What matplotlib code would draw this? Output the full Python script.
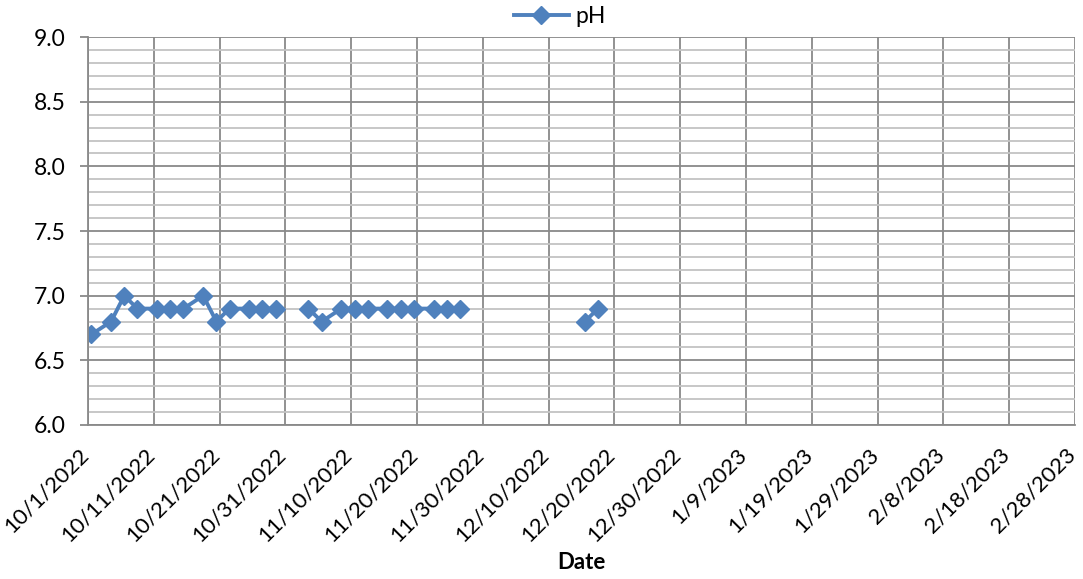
import matplotlib
matplotlib.use('Agg')
import matplotlib.pyplot as plt
import matplotlib.transforms as mtransforms
import numpy as np
import pandas as pd

plt.rcParams['font.family'] = ['Lato', 'DejaVu Sans']

# Sample dates (blank readings left as NaN so the line breaks like in Excel)
dates = ['2022-10-01', '2022-10-04', '2022-10-06', '2022-10-08', '2022-10-11',
         '2022-10-13', '2022-10-15', '2022-10-18', '2022-10-20', '2022-10-22',
         '2022-10-25', '2022-10-27', '2022-10-29', '2022-11-01',
         '2022-11-03', '2022-11-05', '2022-11-08', '2022-11-10', '2022-11-12',
         '2022-11-15', '2022-11-17', '2022-11-19', '2022-11-22', '2022-11-24',
         '2022-11-26', '2022-12-01',
         '2022-12-15', '2022-12-17']
ph = [6.7, 6.8, 7.0, 6.9, 6.9,
      6.9, 6.9, 7.0, 6.8, 6.9,
      6.9, 6.9, 6.9, np.nan,
      6.9, 6.8, 6.9, 6.9, 6.9,
      6.9, 6.9, 6.9, 6.9, 6.9,
      6.9, np.nan,
      6.8, 6.9]

x_start, x_end = '2022-10-01', '2023-02-28'

# Excel date axis puts each point in the middle of its day
x = pd.to_datetime(dates) + pd.Timedelta(hours=12)

fig = plt.figure(figsize=(10.83, 5.79), dpi=100)
ax = fig.add_axes([0.0813, 0.266, 0.9114, 0.670])

ax.plot(x, ph, color='#4F81BD', lw=2.8, marker='D', ms=9.5, label='pH')

ax.set_xlim(pd.Timestamp(x_start), pd.Timestamp(x_end))
ax.set_ylim(6.0, 9.0)

# x ticks every 10 days; labels drawn as rotated texts so they can be nudged
ticks = pd.date_range(x_start, x_end, freq='10D')
ax.set_xticks(ticks)
ax.set_xticklabels([])
off = mtransforms.ScaledTranslation(-7 / 72, -14 / 72, fig.dpi_scale_trans)
for t in ticks:
    ax.text(t, 0, f'{t.month}/{t.day}/{t.year}', transform=ax.get_xaxis_transform() + off,
            rotation=45, ha='right', va='top', rotation_mode='anchor', fontsize=16)

yt = np.arange(6.0, 9.01, 0.5)
ax.set_yticks(yt)
ax.set_yticklabels([f'{v:.1f}' for v in yt], fontsize=16.5)
ax.set_yticks(np.arange(6.0, 9.01, 0.1), minor=True)

ax.grid(True, which='major', axis='both', color='#898989', lw=1.3)
ax.grid(True, which='minor', axis='y', color='#c3c3c3', lw=1.3)
ax.set_axisbelow(True)

ax.tick_params(axis='y', which='major', length=6, width=1.3, color='#898989', pad=10)
ax.tick_params(axis='y', which='minor', length=0)
ax.tick_params(axis='x', which='major', length=0)

for side in ['top', 'right']:
    ax.spines[side].set_visible(False)
for side in ['left', 'bottom']:
    ax.spines[side].set_color('#898989')
    ax.spines[side].set_linewidth(1.3)

fig.text(0.537, 0.029, 'Date', fontsize=16, fontweight='bold',
         ha='center', va='center')

ax.legend(loc='center', bbox_to_anchor=(0.478, 1.052), frameon=False,
          fontsize=16.5, handlelength=2.4, borderaxespad=0, handletextpad=0.3)

fig.savefig('out.png', dpi=100)
